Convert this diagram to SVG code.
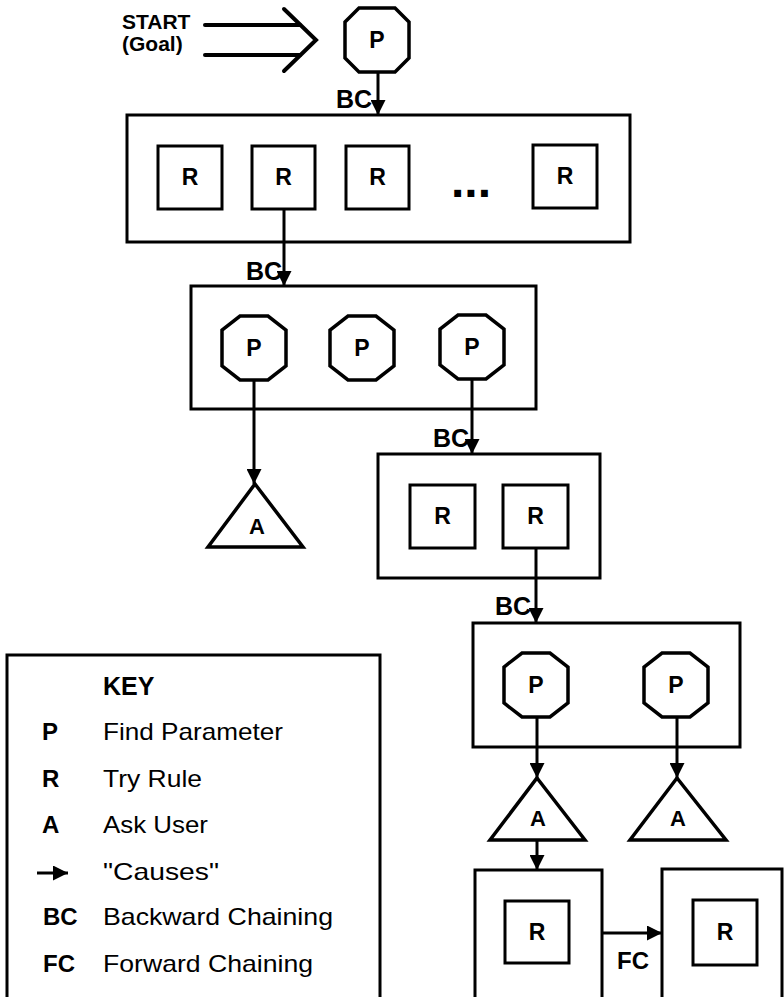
<svg xmlns="http://www.w3.org/2000/svg" width="784" height="997" viewBox="0 0 784 997">
<style>
  .box { fill: none; stroke: #000; stroke-width: 3; }
  .oct { fill: #fff; stroke: #000; stroke-width: 3.5; stroke-linejoin: miter; }
  .tri { fill: #fff; stroke: #000; stroke-width: 3.5; stroke-linejoin: miter; }
  .lbl { font-family: "Liberation Sans", Arial, sans-serif; font-weight: bold; font-size: 23px; fill: #000; text-anchor: middle; }
  .bc { font-family: "Liberation Sans", Arial, sans-serif; font-weight: bold; font-size: 25px; fill: #000; }
  .key { font-family: "Liberation Sans", Arial, sans-serif; font-size: 24px; fill: #000; }
  .keyb { font-family: "Liberation Sans", Arial, sans-serif; font-weight: bold; font-size: 24px; fill: #000; }
  .conn { stroke: #000; stroke-width: 3; fill: none; marker-end: url(#ah); }
</style>
<defs>
  <marker id="ah" markerUnits="userSpaceOnUse" markerWidth="15" markerHeight="15" refX="15" refY="7.5" orient="auto">
    <path d="M0,0 L15,7.5 L0,15 z" fill="#000"/>
  </marker>
</defs>
<rect width="784" height="997" fill="#fff"/>

<g id="start">
  <text class="bc" x="122" y="29" style="font-size:21px">START</text>
  <text class="bc" x="122" y="51" style="font-size:21px">(Goal)</text>
  <g stroke="#000" stroke-width="4" fill="none" stroke-linecap="round">
    <line x1="205" y1="25" x2="300" y2="25"/>
    <line x1="205" y1="55" x2="300" y2="55"/>
    <polyline points="284,9 316,40 284,71" stroke-linejoin="miter"/>
  </g>
</g>

<g id="goalP">
  <polygon class="oct" points="359,8 395,8 409,22 409,58 395,72 359,72 345,58 345,22"/>
  <text class="lbl" x="377" y="48">P</text>
</g>

<g id="rules1">
  <rect class="box" x="127" y="115" width="503" height="127"/>
  <rect class="box" x="158" y="146" width="64" height="63"/>
  <text class="lbl" x="190" y="185">R</text>
  <rect class="box" x="252" y="146" width="63" height="63"/>
  <text class="lbl" x="283.5" y="185">R</text>
  <rect class="box" x="346" y="146" width="63" height="63"/>
  <text class="lbl" x="377.5" y="185">R</text>
  <text class="lbl" x="471" y="197" style="font-size:48px">...</text>
  <rect class="box" x="533" y="145" width="64" height="63"/>
  <text class="lbl" x="565" y="184">R</text>
</g>

<g id="params1">
  <rect class="box" x="191" y="286" width="345" height="123"/>
  <polygon class="oct" points="240,316 268,316 286,330 286,366 268,380 240,380 222,366 222,330"/>
  <text class="lbl" x="254" y="356">P</text>
  <polygon class="oct" points="348,316 376,316 394,330 394,366 376,380 348,380 330,366 330,330"/>
  <text class="lbl" x="362" y="356">P</text>
  <polygon class="oct" points="458,315 486,315 504,329 504,365 486,379 458,379 440,365 440,329"/>
  <text class="lbl" x="472" y="355">P</text>
</g>

<g id="ask1">
  <polygon class="tri" points="255,484 303,547 208,547"/>
  <text class="lbl" x="257" y="534" style="font-size:22px">A</text>
</g>

<g id="rules2">
  <rect class="box" x="378" y="454" width="222" height="124"/>
  <rect class="box" x="410" y="485" width="65" height="63"/>
  <text class="lbl" x="442.5" y="524">R</text>
  <rect class="box" x="503" y="485" width="65" height="63"/>
  <text class="lbl" x="535.5" y="524">R</text>
</g>

<g id="params2">
  <rect class="box" x="473" y="623" width="267" height="124"/>
  <polygon class="oct" points="522,653 550,653 568,667 568,703 550,717 522,717 504,703 504,667"/>
  <text class="lbl" x="536" y="693">P</text>
  <polygon class="oct" points="662,653 690,653 708,667 708,703 690,717 662,717 644,703 644,667"/>
  <text class="lbl" x="676" y="693">P</text>
</g>

<g id="ask2">
  <polygon class="tri" points="537,778 585,840 490,840"/>
  <text class="lbl" x="538" y="826" style="font-size:22px">A</text>
</g>

<g id="ask3">
  <polygon class="tri" points="677,778 726,840 630,840"/>
  <text class="lbl" x="678" y="826" style="font-size:22px">A</text>
</g>

<g id="rule3">
  <rect class="box" x="475" y="870" width="127" height="140"/>
  <rect class="box" x="505" y="901" width="64" height="62"/>
  <text class="lbl" x="537" y="940">R</text>
</g>

<g id="rule4">
  <rect class="box" x="662" y="869" width="120" height="140"/>
  <rect class="box" x="693" y="900" width="64" height="65"/>
  <text class="lbl" x="725" y="940">R</text>
</g>

<g id="connectors">
  <line class="conn" x1="378" y1="72" x2="378" y2="115"/>
  <line class="conn" x1="284" y1="209" x2="284" y2="286"/>
  <line class="conn" x1="254" y1="380" x2="254" y2="484"/>
  <line class="conn" x1="472" y1="379" x2="472" y2="454"/>
  <line class="conn" x1="536" y1="548" x2="536" y2="623"/>
  <line class="conn" x1="537" y1="717" x2="537" y2="778"/>
  <line class="conn" x1="677" y1="717" x2="677" y2="778"/>
  <line class="conn" x1="537" y1="840" x2="537" y2="870"/>
  <line class="conn" x1="602" y1="933" x2="662" y2="933"/>
  <text class="bc" x="372" y="108" text-anchor="end">BC</text>
  <text class="bc" x="282" y="280" text-anchor="end">BC</text>
  <text class="bc" x="469" y="447" text-anchor="end">BC</text>
  <text class="bc" x="531" y="615" text-anchor="end">BC</text>
  <text class="bc" x="617" y="969" style="font-size:24px">FC</text>
</g>

<g id="key">
  <rect class="box" x="7" y="655" width="373" height="345"/>
  <text class="keyb" x="103" y="695" style="font-size:25px">KEY</text>
  <text class="keyb" x="42" y="740">P</text>
  <text class="key" x="103" y="740" textLength="180" lengthAdjust="spacingAndGlyphs">Find Parameter</text>
  <text class="keyb" x="42" y="787">R</text>
  <text class="key" x="103" y="787" textLength="99" lengthAdjust="spacingAndGlyphs">Try Rule</text>
  <text class="keyb" x="42" y="833">A</text>
  <text class="key" x="103" y="833" textLength="105" lengthAdjust="spacingAndGlyphs">Ask User</text>
  <line class="conn" x1="37" y1="873" x2="68" y2="873"/>
  <text class="key" x="103" y="880" textLength="116" lengthAdjust="spacingAndGlyphs">"Causes"</text>
  <text class="keyb" x="43" y="925">BC</text>
  <text class="key" x="103" y="925" textLength="230" lengthAdjust="spacingAndGlyphs">Backward Chaining</text>
  <text class="keyb" x="43" y="972">FC</text>
  <text class="key" x="103" y="972" textLength="210" lengthAdjust="spacingAndGlyphs">Forward Chaining</text>
</g>
</svg>
